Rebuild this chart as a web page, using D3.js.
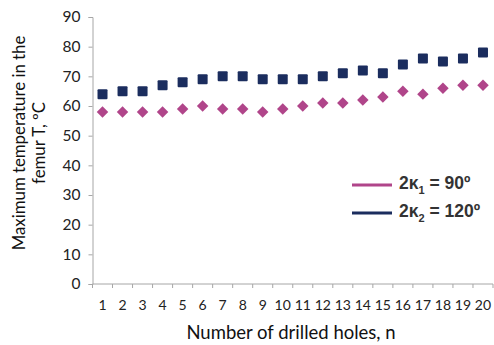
<!DOCTYPE html>
<html>
<head>
<meta charset="utf-8">
<script src="https://cdn.jsdelivr.net/npm/d3@7/dist/d3.min.js"></script>
<style>
  html, body { margin: 0; padding: 0; background: #fff; }
  svg { display: block; }
</style>
</head>
<body>
<svg id="chart" width="494" height="345"></svg>
<script>
// Number of drilled holes
const holes = d3.range(1, 21);
// Maximum femur temperature (ºC) for each point angle
const temp90 = [58, 58, 58, 58, 59, 60, 59, 59, 58, 59, 60, 61, 61, 62, 63, 65, 64, 66, 67, 67];
const temp120 = [64, 65, 65, 67, 68, 69, 70, 70, 69, 69, 69, 70, 71, 72, 71, 74, 76, 75, 76, 78];
const yTicks = [0, 10, 20, 30, 40, 50, 60, 70, 80, 90];

const pink = "#B0458A";
const navy = "#1B2D5E";
const axisGrey = "#a6a6a6";
const font = "Lato, 'Open Sans', sans-serif";

const svg = d3.select("#chart");
const plotLeft = 92.5, plotRight = 493, plotTop = 17, plotBottom = 284;

const x = d3.scaleBand().domain(holes).range([plotLeft, plotRight]);
const y = d3.scaleLinear().domain([0, 90]).range([plotBottom, plotTop]);

// y axis
const yAxis = svg.append("g")
  .attr("transform", `translate(${plotLeft},0)`)
  .call(d3.axisLeft(y).tickValues(yTicks).tickSize(4).tickPadding(8));
yAxis.select(".domain").attr("stroke", axisGrey);
yAxis.selectAll(".tick line").attr("stroke", axisGrey);
yAxis.selectAll(".tick text")
  .attr("font-family", font).attr("font-size", 15.5).attr("fill", "#222");

// x axis: tick marks sit between categories, labels centred in each band
const xAxisG = svg.append("g").attr("transform", `translate(0,${plotBottom})`);
xAxisG.append("line")
  .attr("x1", plotLeft).attr("x2", plotRight)
  .attr("stroke", axisGrey);
const bounds = holes.map(h => x(h)).concat([plotRight]);
xAxisG.selectAll("line.tk").data(bounds).join("line")
  .attr("class", "tk")
  .attr("x1", d => d).attr("x2", d => d)
  .attr("y1", 0).attr("y2", 4)
  .attr("stroke", axisGrey);
xAxisG.selectAll("text").data(holes).join("text")
  .attr("x", d => x(d) + x.bandwidth() / 2)
  .attr("y", 26)
  .attr("text-anchor", "middle")
  .attr("font-family", font).attr("font-size", 14).attr("fill", "#222")
  .text(d => d);

// axis titles
svg.append("text")
  .attr("x", 291)
  .attr("y", 339)
  .attr("text-anchor", "middle")
  .attr("font-family", font).attr("font-size", 18.5).attr("fill", "#111")
  .text("Number of drilled holes, n");

const yTitle = svg.append("text")
  .attr("transform", `translate(25,143) rotate(-90)`)
  .attr("text-anchor", "middle")
  .attr("font-family", font).attr("font-size", 16.8).attr("fill", "#111");
yTitle.append("tspan").attr("x", 0).attr("dy", 0).text("Maximum temperature in the");
yTitle.append("tspan").attr("x", 0).attr("dy", 20).text("femur T, ºC");

const cx = d => x(d) + x.bandwidth() / 2;

// 2κ1 = 90º series: diamonds
svg.append("g").selectAll("path").data(holes).join("path")
  .attr("d", d3.symbol().type(d3.symbolDiamond2).size(84))
  .attr("transform", (d, i) => `translate(${cx(d)},${y(temp90[i])})`)
  .attr("fill", pink);

// 2κ2 = 120º series: squares
svg.append("g").selectAll("rect").data(holes).join("rect")
  .attr("x", d => cx(d) - 5)
  .attr("y", (d, i) => y(temp120[i]) - 5)
  .attr("width", 10).attr("height", 10)
  .attr("rx", 1)
  .attr("fill", navy);

// legend
const legend = [
  { sym: "κ", sub: "1", val: " = 90º", color: pink, y: 185 },
  { sym: "κ", sub: "2", val: " = 120º", color: navy, y: 213 }
];
const lg = svg.append("g");
legend.forEach(l => {
  lg.append("line")
    .attr("x1", 352).attr("x2", 392)
    .attr("y1", l.y).attr("y2", l.y)
    .attr("stroke", l.color).attr("stroke-width", 3);
  const t = lg.append("text")
    .attr("x", 399).attr("y", l.y + 4)
    .attr("font-family", "'Liberation Sans', Arial, sans-serif")
    .attr("font-weight", "bold").attr("font-size", 17.5).attr("fill", "#333");
  t.append("tspan").text("2" + l.sym);
  t.append("tspan").attr("font-size", 11).attr("dy", 5).text(l.sub);
  t.append("tspan").attr("dy", -5).text(l.val);
});
</script>
</body>
</html>
